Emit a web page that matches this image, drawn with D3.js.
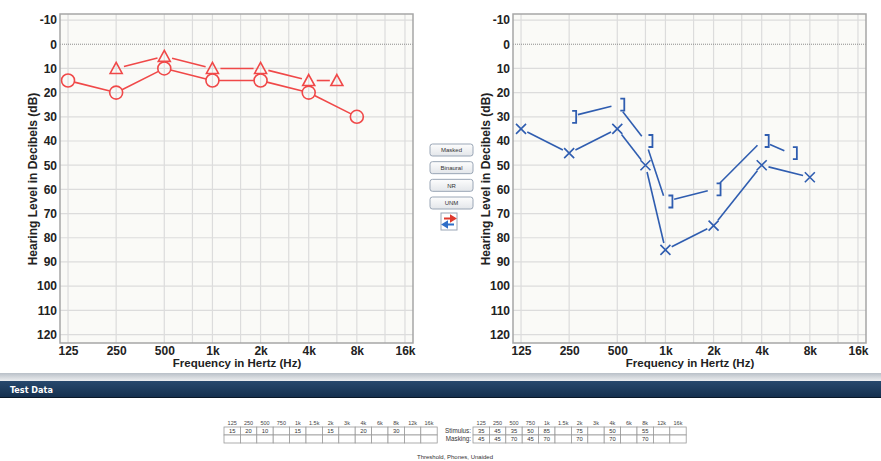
<!DOCTYPE html>
<html>
<head>
<meta charset="utf-8">
<script src="https://cdn.jsdelivr.net/npm/d3@7"></script>
<style>
  body { margin: 0; background: #fff; }
  svg { display: block; font-family: "Liberation Sans", Arial, sans-serif; }
</style>
</head>
<body>
<script>
// grid / table frequencies
const freqs = [125, 250, 500, 750, 1000, 1500, 2000, 3000, 4000, 6000, 8000, 12000, 16000];
const freqLabels = ['125', '250', '500', '750', '1k', '1.5k', '2k', '3k', '4k', '6k', '8k', '12k', '16k'];
// axis labels
const axisFreqs = [125, 250, 500, 1000, 2000, 4000, 8000, 16000];
const axisFreqLabels = ['125', '250', '500', '1k', '2k', '4k', '8k', '16k'];
const dbTicks = [-10, 0, 10, 20, 30, 40, 50, 60, 70, 80, 90, 100, 110, 120];

// right ear (red)
const rightAc = [[125, 15], [250, 20], [500, 10], [1000, 15], [2000, 15], [4000, 20], [8000, 30]];
const rightAcMasked = [[250, 10], [500, 5], [1000, 10], [2000, 10], [4000, 15], [6000, 15]];
// left ear (blue)
const leftAc = [[125, 35], [250, 45], [500, 35], [750, 50], [1000, 85], [2000, 75], [4000, 50], [8000, 55]];
const leftBcMasked = [[250, 30], [500, 25], [750, 40], [1000, 65], [2000, 60], [4000, 40], [6000, 45]];
// masking row of the left ear table
const leftMasking = [45, 45, 70, 45, 70, null, 70, null, 70, null, 70, null, null];

const buttons = ['Masked', 'Binaural', 'NR', 'UNM'];

const W = 881, H = 461;
const RED = '#f04848', BLUE = '#2f5db0';
const plotTop = 14, plotBottom = 343, plotW = 353;

const svg = d3.select('body').append('svg').attr('width', W).attr('height', H);

const drawChart = left => {
  const x = d3.scaleLog().base(2)
    .domain([125 / Math.pow(2, 1 / 6), 16000 * Math.pow(2, 1 / 6)])
    .range([left, left + plotW]);
  const y = d3.scaleLinear().domain([-12.5, 123.5]).range([plotTop, plotBottom]);
  const g = svg.append('g');

  g.append('rect')
    .attr('x', left).attr('y', plotTop)
    .attr('width', plotW).attr('height', plotBottom - plotTop)
    .attr('fill', '#fafaf7');

  // grid
  g.selectAll('.vgrid').data(freqs).join('line')
    .attr('x1', d => x(d)).attr('x2', d => x(d))
    .attr('y1', plotTop).attr('y2', plotBottom)
    .attr('stroke', '#dcdcdc').attr('stroke-width', 1.2);
  g.selectAll('.hgrid').data(dbTicks.filter(d => d !== 0)).join('line')
    .attr('x1', left).attr('x2', left + plotW)
    .attr('y1', d => y(d)).attr('y2', d => y(d))
    .attr('stroke', '#dcdcdc').attr('stroke-width', 1.2);
  g.append('line')
    .attr('x1', left).attr('x2', left + plotW)
    .attr('y1', y(0)).attr('y2', y(0))
    .attr('stroke', '#8c8c8c').attr('stroke-dasharray', '1,1');

  g.append('rect')
    .attr('x', left).attr('y', plotTop)
    .attr('width', plotW).attr('height', plotBottom - plotTop)
    .attr('fill', 'none').attr('stroke', '#a6a6a6').attr('stroke-width', 1.5);

  // axes
  const yAxis = d3.axisLeft(y).tickValues(dbTicks).tickFormat(d => String(d))
    .tickSize(0).tickPadding(3);
  g.append('g').attr('transform', `translate(${left},0)`).call(yAxis)
    .call(a => a.select('.domain').remove())
    .selectAll('text')
    .attr('font-size', 12).attr('font-weight', 'bold').attr('fill', '#222')
    .attr('font-family', '"Liberation Sans", Arial, sans-serif');

  const xAxis = d3.axisBottom(x).tickValues(axisFreqs)
    .tickFormat((d, i) => axisFreqLabels[i]).tickSize(0).tickPadding(3);
  g.append('g').attr('transform', `translate(0,${plotBottom})`).call(xAxis)
    .call(a => a.select('.domain').remove())
    .selectAll('text')
    .attr('font-size', 12).attr('font-weight', 'bold').attr('fill', '#222')
    .attr('font-family', '"Liberation Sans", Arial, sans-serif');

  g.append('text')
    .attr('x', left + 177).attr('y', 367)
    .attr('text-anchor', 'middle')
    .attr('font-size', 11.5).attr('font-weight', 'bold').attr('fill', '#222')
    .text('Frequency in Hertz (Hz)');
  g.append('text')
    .attr('transform', `translate(${left - 23},179) rotate(-90)`)
    .attr('text-anchor', 'middle')
    .attr('font-size', 12).attr('font-weight', 'bold').attr('fill', '#222')
    .text('Hearing Level in Decibels (dB)');

  return { g, x, y };
};

// lines between points that stop short of the markers
const gapLines = (chart, data, color, gap0, gap1) => {
  const pairs = d3.pairs(data.map(d => [chart.x(d[0]), chart.y(d[1])]));
  chart.g.selectAll(null).data(pairs).join('line')
    .each(function ([a, b]) {
      const dx = b[0] - a[0], dy = b[1] - a[1];
      const len = Math.hypot(dx, dy);
      const ux = dx / len, uy = dy / len;
      d3.select(this)
        .attr('x1', a[0] + ux * gap0).attr('y1', a[1] + uy * gap0)
        .attr('x2', b[0] - ux * gap1).attr('y2', b[1] - uy * gap1);
    })
    .attr('stroke', color).attr('stroke-width', 1.6);
};

// ---- left chart: right ear
const c1 = drawChart(60);
gapLines(c1, rightAc, RED, 6.5, 6.5);
gapLines(c1, rightAcMasked, RED, 8, 7);
c1.g.selectAll('.circ').data(rightAc).join('circle')
  .attr('cx', d => c1.x(d[0])).attr('cy', d => c1.y(d[1])).attr('r', 6.5)
  .attr('fill', 'none').attr('stroke', RED).attr('stroke-width', 1.6);
c1.g.selectAll('.tri').data(rightAcMasked).join('path')
  .attr('transform', d => `translate(${c1.x(d[0])},${c1.y(d[1])})`)
  .attr('d', 'M0,-6 L6,5 L-6,5 Z')
  .attr('fill', 'none').attr('stroke', RED).attr('stroke-width', 1.6);

// ---- right chart: left ear
const c2 = drawChart(513);
gapLines(c2, leftAc, BLUE, 7, 7);
gapLines(c2, leftBcMasked, BLUE, 9, 6);
c2.g.selectAll('.xmark').data(leftAc).join('path')
  .attr('transform', d => `translate(${c2.x(d[0])},${c2.y(d[1])})`)
  .attr('d', 'M-5,-5 L5,5 M5,-5 L-5,5')
  .attr('fill', 'none').attr('stroke', BLUE).attr('stroke-width', 1.6);
c2.g.selectAll('.brk').data(leftBcMasked).join('path')
  .attr('transform', d => `translate(${c2.x(d[0])},${c2.y(d[1])})`)
  .attr('d', 'M3,-6 L7,-6 L7,6 L3,6')
  .attr('fill', 'none').attr('stroke', BLUE).attr('stroke-width', 1.8);

// ---- middle buttons
const defs = svg.append('defs');
const bg = defs.append('linearGradient').attr('id', 'btn').attr('x1', 0).attr('x2', 0).attr('y1', 0).attr('y2', 1);
bg.append('stop').attr('offset', 0).attr('stop-color', '#fdfdfd');
bg.append('stop').attr('offset', 1).attr('stop-color', '#e3e6ea');
const btnY = d3.scalePoint().domain(buttons).range([150, 203]);
const btn = svg.append('g').selectAll('g').data(buttons).join('g')
  .attr('transform', d => `translate(430,${btnY(d) - 6})`);
btn.append('rect').attr('width', 43).attr('height', 12).attr('rx', 2.5)
  .attr('fill', 'url(#btn)').attr('stroke', '#9aa6b6');
btn.append('text').attr('x', 21.5).attr('y', 8.2).attr('text-anchor', 'middle')
  .attr('font-size', 6).attr('fill', '#333').text(d => d);

const sw = svg.append('g').attr('transform', 'translate(441,213)');
sw.append('rect').attr('width', 16).attr('height', 17).attr('fill', '#fff').attr('stroke', '#9aa6b6');
sw.append('path').attr('d', 'M3,5.5 L10,5.5 L10,3 L14,5.5 L10,8 L10,5.5').attr('stroke', '#e03a2e').attr('stroke-width', 2).attr('fill', '#e03a2e');
sw.append('path').attr('d', 'M13,11.5 L6,11.5 L6,9 L2,11.5 L6,14 L6,11.5').attr('stroke', '#2f6fc8').attr('stroke-width', 2).attr('fill', '#2f6fc8');

// ---- Test Data banner
const gg = defs.append('linearGradient').attr('id', 'grayband').attr('x1', 0).attr('x2', 0).attr('y1', 0).attr('y2', 1);
gg.append('stop').attr('offset', 0).attr('stop-color', '#b9c0c8');
gg.append('stop').attr('offset', 1).attr('stop-color', '#eceef0');
const nb = defs.append('linearGradient').attr('id', 'navy').attr('x1', 0).attr('x2', 0).attr('y1', 0).attr('y2', 1);
nb.append('stop').attr('offset', 0).attr('stop-color', '#28496d');
nb.append('stop').attr('offset', 1).attr('stop-color', '#15304f');
svg.append('rect').attr('x', 0).attr('y', 373).attr('width', W).attr('height', 8).attr('fill', 'url(#grayband)');
svg.append('rect').attr('x', 0).attr('y', 381).attr('width', W).attr('height', 16).attr('fill', 'url(#navy)');
svg.append('line').attr('x1', 0).attr('x2', W).attr('y1', 397.5).attr('y2', 397.5).attr('stroke', '#0a1828');
svg.append('text').attr('x', 10).attr('y', 393).attr('font-size', 9).attr('font-weight', 'bold')
  .attr('font-family', '"DejaVu Sans Condensed", "Liberation Sans Narrow", sans-serif')
  .attr('fill', '#fff').text('Test Data');

// ---- tables
const cellW = 16.4;
const drawTable = (x0, stim, mask) => {
  const tx = d3.scaleBand().domain(freqs).range([x0, x0 + cellW * freqs.length]);
  const t = svg.append('g');
  t.selectAll('.hd').data(freqs).join('text')
    .attr('x', d => tx(d) + cellW / 2).attr('y', 424.5)
    .attr('text-anchor', 'middle').attr('font-size', 5.5).attr('fill', '#444')
    .text((d, i) => freqLabels[i]);
  [stim, mask].forEach((row, r) => {
    const cells = t.selectAll(null).data(freqs).join('g')
      .attr('transform', d => `translate(${tx(d)},${427 + r * 8})`);
    cells.append('rect').attr('width', cellW).attr('height', 8)
      .attr('fill', '#fff').attr('stroke', '#9a9a9a').attr('stroke-width', 0.8);
    cells.append('text').attr('x', cellW / 2).attr('y', 6)
      .attr('text-anchor', 'middle').attr('font-size', 5.8).attr('fill', '#333')
      .text((d, i) => row[i] == null ? '' : row[i]);
  });
};
const rowFrom = data => freqs.map(f => { const p = data.find(d => d[0] === f); return p ? p[1] : null; });
drawTable(224, rowFrom(rightAc), freqs.map(() => null));
drawTable(473, rowFrom(leftAc), leftMasking);

svg.append('text').attr('x', 471).attr('y', 433).attr('text-anchor', 'end')
  .attr('font-size', 6.3).attr('fill', '#333').text('Stimulus:');
svg.append('text').attr('x', 471).attr('y', 441).attr('text-anchor', 'end')
  .attr('font-size', 6.3).attr('fill', '#333').text('Masking:');
svg.append('text').attr('x', 455).attr('y', 459).attr('text-anchor', 'middle')
  .attr('font-size', 6).attr('fill', '#333').text('Threshold, Phones, Unaided');
</script>
</body>
</html>
